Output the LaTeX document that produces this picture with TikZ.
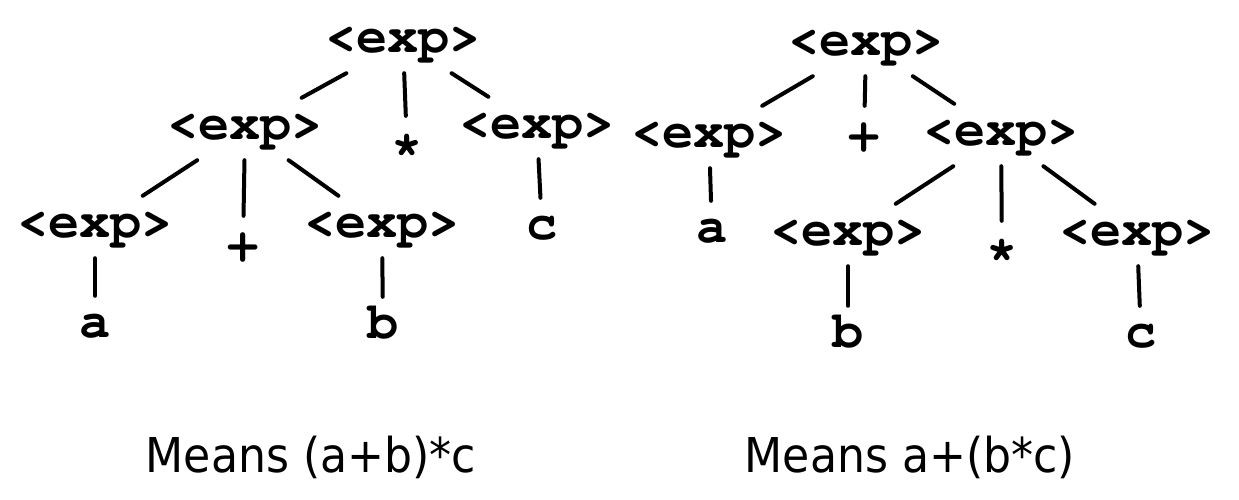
\documentclass[tikz,border=0pt]{standalone}
\usepackage{fontspec}
\usepackage{tikz}
\usetikzlibrary{positioning}
\newfontfamily\treefont{texgyrecursor}[Extension=.otf, UprightFont=*-regular, BoldFont=*-bold]
\newfontfamily\capfont{DejaVu Sans}[FakeStretch=0.92]

\begin{document}
\begin{tikzpicture}[x=1pt, y=-1pt,
    sym/.style={font=\treefont\bfseries\fontsize{52}{62}\selectfont,
        text height=28pt, text depth=8pt, inner xsep=2pt, inner ysep=13pt},
    edge/.style={line width=4pt, line cap=round}]
            \useasboundingbox (0,0) rectangle (1239,499);
            % Left tree: (a+b)*c
            \node[sym] (L0) at (403,42) {<exp>};
            \node[sym] (L1) at (245,129) {<exp>};
            \node[sym] (Lstar) at (407,147) {\raisebox{-9pt}{*}};
            \node[sym] (L2) at (537,128) {<exp>};
            \node[sym] (L11) at (95,227) {<exp>};
            \node[sym] (Lplus) at (243,247) {\raisebox{-3pt}{+}};
            \node[sym] (L12) at (382,227) {<exp>};
            \node[sym] (Lc) at (542,229) {c};
            \node[sym] (La) at (95,327) {a};
            \node[sym] (Lb) at (383,328) {b};
            % Right tree: a+(b*c)
            \node[sym] (R0) at (866,45) {<exp>};
            \node[sym] (R1) at (709,137) {<exp>};
            \node[sym] (Rplus) at (864,137) {\raisebox{-3pt}{+}};
            \node[sym] (R2) at (1001,135) {<exp>};
            \node[sym] (Ra) at (712,232) {a};
            \node[sym] (R21) at (848,235) {<exp>};
            \node[sym] (Rstar) at (1002,252) {\raisebox{-9pt}{*}};
            \node[sym] (R22) at (1137,235) {<exp>};
            \node[sym] (Rb) at (848,337) {b};
            \node[sym] (Rc) at (1141,337) {c};
            % Draw edges
            \foreach \p/\c in {L0/L1, L0/Lstar, L0/L2, L1/L11, L1/Lplus, L1/L12,
                L2/Lc, L11/La, L12/Lb,
                R0/R1, R0/Rplus, R0/R2, R1/Ra, R2/R21, R2/Rstar, R2/R22,
                R21/Rb, R22/Rc}{
                \draw[edge] (\p) -- (\c);
            }
            % Captions
            \node[font=\capfont\fontsize{48}{58}\selectfont, anchor=base] (capL) at (311,472) {Means (a+b)*c};
            \node[font=\capfont\fontsize{48}{58}\selectfont, anchor=base] (capR) at (910,472) {Means a+(b*c)};
\end{tikzpicture}
\end{document}
